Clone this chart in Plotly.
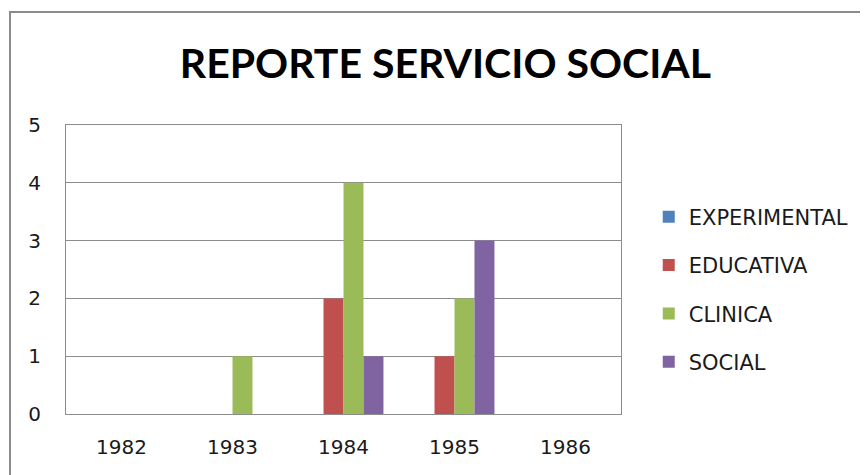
import plotly.graph_objects as go

years = ["1982", "1983", "1984", "1985", "1986"]
experimental = [0, 0, 0, 0, 0]
educativa = [0, 0, 2, 1, 0]
clinica = [0, 1, 4, 2, 0]
social = [0, 0, 1, 3, 0]

series = [
    ("EXPERIMENTAL", experimental, "#4F81BD"),
    ("EDUCATIVA", educativa, "#C0504D"),
    ("CLINICA", clinica, "#9BBB59"),
    ("SOCIAL", social, "#8064A2"),
]

fig = go.Figure()
for name, vals, color in series:
    fig.add_trace(go.Bar(x=years, y=vals, name=name, legendgroup=name,
                         marker=dict(color=color, line=dict(width=0))))

# page body has an 8px margin, so the figure is laid out 8px up/left
fig.update_layout(
    width=868, height=475,
    margin=dict(l=58, r=255, t=117, b=69),
    paper_bgcolor="white", plot_bgcolor="white",
    font=dict(family="DejaVu Sans, sans-serif", size=20, color="#1a1a1a"),
    title=dict(text="<b>REPORTE SERVICIO SOCIAL</b>", x=0.504, xanchor="center",
               y=0.882, yanchor="middle",
               font=dict(family="Lato, sans-serif", size=41, color="#000")),
    barmode="group", bargap=0.28, bargroupgap=0,
    legend=dict(x=1.05, y=0.752, xanchor="left", yanchor="top",
                traceorder="grouped", tracegroupgap=18,
                font=dict(size=21)),
    showlegend=True,
)

fig.update_xaxes(showline=True, linecolor="#8c8c8c", linewidth=1, mirror=True,
                 ticks="", showgrid=False, ticklabelstandoff=15)
fig.update_yaxes(range=[0, 5], dtick=1, showline=True, linecolor="#8c8c8c",
                 linewidth=1, mirror=True, showgrid=True, gridcolor="#8c8c8c",
                 gridwidth=1, ticks="", zeroline=False, ticklabelstandoff=20)

# chart outer border (right side runs off the page like the original)
fig.add_shape(type="rect", xref="paper", yref="paper",
              x0=(2 - 58) / 555, x1=(880 - 58) / 555,
              y0=-(490 - 406) / 289, y1=1 + (117 - 4) / 289,
              line=dict(color="#8c8c8c", width=2), layer="below")

fig.write_html("out.html")
